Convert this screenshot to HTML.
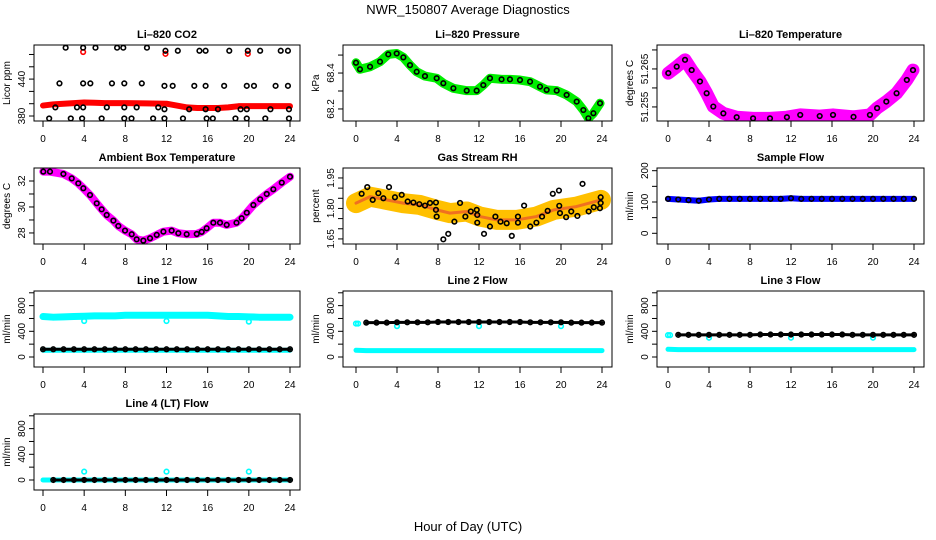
<!DOCTYPE html>
<html><head><meta charset="utf-8"><style>
html,body{margin:0;padding:0;background:#fff}
svg{display:block;font-family:"Liberation Sans",Arial,sans-serif}
.t{font-size:11px;font-weight:bold}
.tk{font-size:10px}
</style></head><body>
<svg id="chart" width="936" height="540" viewBox="0 0 936 540" xmlns="http://www.w3.org/2000/svg">
<text x="468" y="14" text-anchor="middle" font-size="13">NWR_150807  Average Diagnostics</text>
<text x="468" y="531" text-anchor="middle" font-size="13">Hour of Day (UTC)</text>
</svg>
<script>
// ---- data ----
const xTicks=[0,4,8,12,16,20,24];
const co2BandHours=[0,1,2,3,4,5,6,8,10,12,13,14,15,16,17,18,19,20,21,22,24];
const co2BandVals=[397,399,400,401,402,401.5,401,401,400.5,400,397,394,393,393,393,394,396,396,396,396,396];
const co2BlackHours=[2.2,3.9,5.1,7.2,7.8,10.1,11.9,13.1,15.2,15.8,18.1,19.9,21.1,23.1,23.8,1.6,3.9,4.6,6.7,7.9,9.6,11.8,12.6,14.7,15.8,17.6,19.8,20.5,22.6,23.8,1.2,3.3,3.9,6.2,7.9,9.1,11.2,11.8,14.2,15.8,17.0,19.2,19.8,22.1,23.9,0.6,2.7,3.8,5.7,7.9,8.6,10.7,11.8,13.6,15.9,16.5,18.7,19.8,21.6,23.9];
const co2BlackVals=[491,491,491,491,491,491,486,486,486,486,486,486,486,486,486,433,433,433,433,433,433,429,429,429,429,429,429,429,429,429,394,394,394,394,394,394,394,391,391,391,391,391,391,391,391,376,376,376,376,376,376,376,376,376,376,376,376,376,376,376];
const co2RedHours=[3.9,11.9,19.9];
const co2RedVals=[484,481,481];
const presHours=[0,0.39,1.37,2.34,3.15,3.97,4.62,5.27,5.92,6.73,7.87,8.52,9.5,10.8,11.77,12.42,13.07,14.2,15.02,16.0,16.98,17.95,18.6,19.58,20.55,21.53,22.18,22.67,23.16,23.81];
const presVals=[68.457,68.421,68.435,68.463,68.504,68.509,68.487,68.444,68.407,68.383,68.371,68.343,68.315,68.302,68.302,68.333,68.371,68.365,68.365,68.361,68.352,68.324,68.306,68.302,68.278,68.241,68.194,68.148,68.176,68.232];
const tempHours=[0.03,0.85,1.66,2.31,3.12,3.77,4.42,5.4,6.7,8.3,9.95,11.6,12.9,14.8,16.1,18.1,19.7,20.4,21.3,22.3,23.3,23.9];
const tempVals=[51.2639,51.2656,51.2674,51.2647,51.2617,51.2586,51.2551,51.2533,51.2523,51.252,51.252,51.2523,51.2529,51.2526,51.2529,51.2524,51.2529,51.2547,51.2564,51.2586,51.2621,51.2647];
const ambHours=[0.03,0.68,1.98,2.79,3.43,3.92,4.57,5.22,5.7,6.19,6.84,7.32,7.97,8.62,9.1,9.75,10.4,11.05,11.7,12.5,13.15,13.96,14.94,15.42,15.9,16.55,17.2,17.85,18.8,19.3,19.8,20.44,21.1,21.74,22.38,23.2,24.0];
const ambVals=[32.72,32.72,32.54,32.2,31.82,31.44,30.92,30.28,29.82,29.38,28.95,28.54,28.18,27.9,27.51,27.41,27.59,27.85,28.1,28.18,27.98,27.9,27.92,28.08,28.36,28.79,28.79,28.62,28.79,29.13,29.56,30.15,30.59,31.0,31.36,31.87,32.33];
const rhBandHours=[0,1.37,2.99,4.6,6.24,7.87,9.17,10.8,12.1,13.7,15.7,17.6,19.3,21.5,23.9];
const rhBandVals=[1.826,1.858,1.842,1.826,1.817,1.793,1.777,1.785,1.76,1.744,1.744,1.76,1.793,1.809,1.842];
const rhHours=[0.55,1.1,1.63,2.18,2.67,3.22,3.8,4.46,5.04,5.6,6.18,6.73,7.22,7.8,7.8,7.87,8.52,9.0,9.6,10.15,10.67,11.2,11.78,11.83,11.83,12.49,13.07,13.6,14.1,14.7,15.2,15.8,15.8,16.4,17.0,17.6,18.15,18.7,19.2,19.8,19.83,19.9,20.5,21.0,21.6,22.1,22.7,23.2,23.8,23.87,23.87];
const rhVals=[1.872,1.905,1.842,1.875,1.85,1.905,1.855,1.867,1.834,1.829,1.821,1.814,1.827,1.829,1.793,1.76,1.648,1.675,1.735,1.827,1.76,1.785,1.793,1.768,1.73,1.675,1.711,1.76,1.735,1.727,1.665,1.76,1.73,1.814,1.711,1.73,1.76,1.788,1.872,1.888,1.813,1.777,1.757,1.785,1.763,1.921,1.785,1.806,1.801,1.827,1.855];
const hourly=[0,1,2,3,4,5,6,7,8,9,10,11,12,13,14,15,16,17,18,19,20,21,22,23,24];
const sampleVals=[110,108,106,104,108,110,110,110,110,110,110,110,112,110,110,110,110,110,110,110,110,110,110,110,110];
const line1Cyan=[630,620,625,630,635,640,640,640,650,650,650,650,650,650,650,650,650,640,630,630,625,620,620,620,620];
const line1Black=[120,120,120,120,120,120,120,120,120,120,120,120,120,120,120,120,120,120,120,120,120,120,120,120,120];
const line1Low=[105,105,105,105,105,105,105,105,105,105,105,105,105,105,105,105,105,105,105,105,105,105,105,105,105];
const line2Black=[540,535,535,535,540,540,540,540,545,545,545,545,545,545,545,545,545,540,540,540,540,535,535,535,535];
const line2Low=[105,100,100,100,100,100,100,100,100,100,100,100,100,100,100,100,100,100,100,100,100,100,100,100,100];
const line3Black=[345,345,345,345,345,345,345,345,345,350,350,350,350,350,350,350,350,350,345,345,345,345,345,345,345];
const line3Low=[120,115,115,115,115,115,115,115,115,115,115,115,115,115,115,115,115,115,115,115,115,115,115,115,115];
const line4Black=[0,0,0,0,0,0,0,0,0,0,0,0,0,0,0,0,0,0,0,0,0,0,0,0,0];
const spikeHours=[4,12,20];
const line1Spikes=[560,560,550];
const line2Spikes=[480,480,480];
const line3Spikes=[300,300,300];
const line4Spikes=[130,130,130];
const line2StartHours=[0,0.2];
const line2StartVals=[520,520];
const line3StartVals=[340,340];

// ---- layout ----
const NS="http://www.w3.org/2000/svg";
const svg=document.getElementById('chart');
const colBox=[[34,300],[343,612],[657,924]];
const colHr=[[43,290],[356,602],[668,914]];
const rowTop=[45,168,291,414];
const BH=76;
function el(tag,attrs,parent){const e=document.createElementNS(NS,tag);for(const k in attrs)e.setAttribute(k,attrs[k]);(parent||svg).appendChild(e);return e;}

function panel(id,title,col,row,dom,ticks,labels,ylab,fmt){
  const g=el('g',{});
  
  
  const [L,R]=colBox[col],T=rowTop[row],B=T+BH;
  const [h0,h24]=colHr[col];
  const sx=h=>h0+(h24-h0)*h/24;
  const sy=v=>B-(v-dom[0])/(dom[1]-dom[0])*BH;
  const cp=el('clipPath',{id:'clip-'+id},g);
  el('rect',{x:L,y:T,width:R-L,height:BH},cp);
  const t=el('text',{x:(L+R)/2,y:T-7,'text-anchor':'middle',class:'t'},g);
  t.textContent=title;
  
  
  const data=el('g',{'clip-path':'url(#clip-'+id+')'},g);
  
  
  const box=el('rect',{x:L,y:T,width:R-L,height:BH,fill:'none',stroke:'#000','stroke-width':1},g);
  
  
  // x axis
  const xa=el('g',{},g);
  
  
  el('line',{x1:sx(0),x2:sx(24),y1:B,y2:B,stroke:'#000'},xa);
  xTicks.forEach(h=>{
    el('line',{x1:sx(h),x2:sx(h),y1:B,y2:B+6,stroke:'#000'},xa);
    const lt=el('text',{x:sx(h),y:B+21,'text-anchor':'middle',class:'tk'},xa);
    lt.textContent=h;
  });
  // y axis
  const ya=el('g',{},g);
  
  
  el('line',{x1:L,x2:L,y1:sy(ticks[0]),y2:sy(ticks[ticks.length-1]),stroke:'#000'},ya);
  ticks.forEach(v=>{el('line',{x1:L-5,x2:L,y1:sy(v),y2:sy(v),stroke:'#000'},ya);});
  labels.forEach(v=>{
    const yy=sy(v);
    const lt=el('text',{x:L-9,y:yy,'text-anchor':'middle',class:'tk',transform:'rotate(-90 '+(L-9)+' '+yy+')'},ya);
    lt.textContent=fmt?fmt(v):v;
  });
  const yt=el('text',{x:L-24,y:(T+B)/2,'text-anchor':'middle',class:'tk',transform:'rotate(-90 '+(L-24)+' '+((T+B)/2)+')'},g);
  yt.textContent=ylab;
  
  
  return {data,sx,sy};
}
function band(p,hs,vs,color,w,name){
  const pts=hs.map((h,i)=>p.sx(h)+','+p.sy(vs[i])).join(' ');
  const pl=el('polyline',{points:pts,fill:'none',stroke:color,'stroke-width':w,'stroke-linejoin':'round','stroke-linecap':'round'},p.data);
  
  
}
function pts(p,hs,vs,color,name,r){
  hs.forEach((h,i)=>{
    const c=el('circle',{cx:p.sx(h),cy:p.sy(vs[i]),r:r||2.3,fill:'none',stroke:color,'stroke-width':1.6},p.data);
    
    
  });
}

// CO2
let p=panel('co2','Li–820 CO2',0,0,[371.9,495.4],[380,400,420,440,460,480],[380,440],'Licor ppm');
band(p,co2BandHours,co2BandVals,'#ff0000',6,'co2-red-band');
pts(p,co2RedHours,co2RedVals,'#ff0000','co2-red-point');
pts(p,co2BlackHours,co2BlackVals,'#000','co2-black-point');
// Pressure
p=panel('pressure','Li–820 Pressure',1,0,[68.133,68.556],[68.2,68.3,68.4,68.5],[68.2,68.4],'kPa',v=>v.toFixed(1));
band(p,presHours,presVals,'#00ee00',9,'pressure-green-band');
pts(p,presHours,presVals,'#000','pressure-point');
// Li820 temp
p=panel('li820-temp','Li–820 Temperature',2,0,[51.2513,51.2713],[51.255,51.26,51.265,51.27],[51.255,51.265],'degrees C',v=>v.toFixed(3));
band(p,tempHours,tempVals,'#ff00ff',13,'li820-temp-magenta-band');
pts(p,tempHours,tempVals,'#000','li820-temp-point');
// Ambient
p=panel('ambient-temp','Ambient Box Temperature',0,1,[27.15,33.0],[28,29,30,31,32],[28,30,32],'degrees C');
band(p,ambHours,ambVals,'#ff00ff',8,'ambient-magenta-band');
pts(p,ambHours,ambVals,'#000','ambient-point');
// RH
p=panel('gas-rh','Gas Stream RH',1,1,[1.625,1.999],[1.65,1.7,1.75,1.8,1.85,1.9,1.95],[1.65,1.8,1.95],'percent',v=>v.toFixed(2));
band(p,rhBandHours,rhBandVals,'#ffc000',20,'rh-orange-band');
band(p,rhBandHours,rhBandVals,'#f07020',3,'rh-red-core');
pts(p,rhHours,rhVals,'#000','rh-point');
// Sample flow
p=panel('sample-flow','Sample Flow',2,1,[-34.2,208.6],[0,50,100,150,200],[0,100,200],'ml/min');
band(p,hourly,sampleVals,'#0000ff',6,'sample-blue-band');
pts(p,hourly,sampleVals,'#000','sample-point');
const FD=[-156,1028],FT=[0,200,400,600,800,1000],FL=[0,400,800];
// Line 1
p=panel('line1','Line 1 Flow',0,2,FD,FT,FL,'ml/min');
band(p,hourly,line1Cyan,'#00ffff',7,'line1-cyan-band');
pts(p,spikeHours,line1Spikes,'#00ffff','line1-cyan-dip');
band(p,hourly,line1Low,'#00ffff',5,'line1-cyan-low');
band(p,hourly,line1Black,'#000',3,'line1-black-band');
pts(p,hourly,line1Black,'#000','line1-black-point');
// Line 2
p=panel('line2','Line 2 Flow',1,2,FD,FT,FL,'ml/min');
pts(p,line2StartHours,line2StartVals,'#00ffff','line2-cyan-start');
pts(p,spikeHours,line2Spikes,'#00ffff','line2-cyan-dip');
band(p,hourly,line2Low,'#00ffff',5,'line2-cyan-low');
band(p,hourly.slice(1),line2Black.slice(1),'#000',3,'line2-black-band');
pts(p,hourly.slice(1),line2Black.slice(1),'#000','line2-black-point');
// Line 3
p=panel('line3','Line 3 Flow',2,2,FD,FT,FL,'ml/min');
pts(p,line2StartHours,line3StartVals,'#00ffff','line3-cyan-start');
pts(p,spikeHours,line3Spikes,'#00ffff','line3-cyan-dip');
band(p,hourly,line3Low,'#00ffff',5,'line3-cyan-low');
band(p,hourly.slice(1),line3Black.slice(1),'#000',3,'line3-black-band');
pts(p,hourly.slice(1),line3Black.slice(1),'#000','line3-black-point');
// Line 4
p=panel('line4','Line 4 (LT) Flow',0,3,FD,FT,FL,'ml/min');
pts(p,spikeHours,line4Spikes,'#00ffff','line4-cyan-spike');
band(p,hourly,line4Black,'#00ffff',5,'line4-cyan-band');
band(p,hourly.slice(1),line4Black.slice(1),'#000',3,'line4-black-band');
pts(p,hourly.slice(1),line4Black.slice(1),'#000','line4-black-point');
</script>
</body></html>
